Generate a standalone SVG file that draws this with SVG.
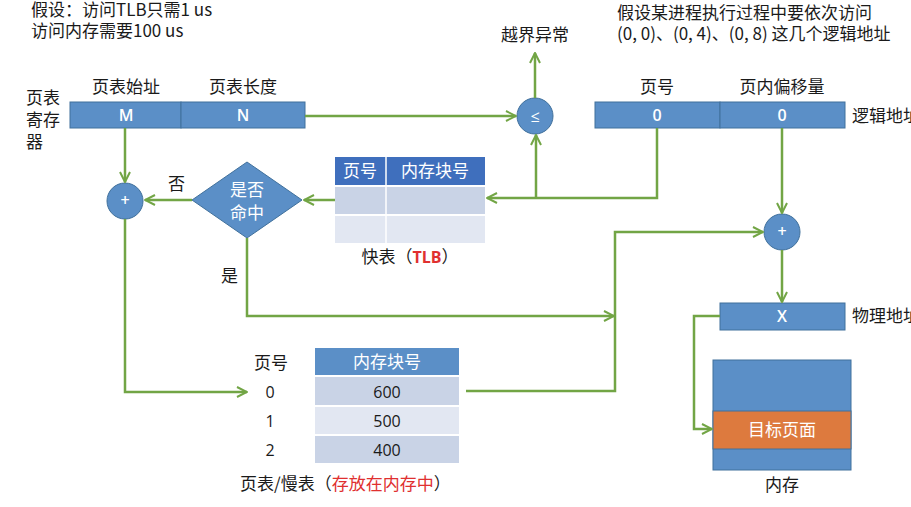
<svg xmlns="http://www.w3.org/2000/svg" width="911" height="507" viewBox="0 0 911 507">
<style>
text{font-family:"Noto Sans CJK SC","Noto Sans",sans-serif;font-size:17px;fill:#1a1a1a}
.w{fill:#fff}
.c{text-anchor:middle}
.num{font-family:"Open Sans","Noto Sans",sans-serif;font-size:16px}
.b{font-weight:600}
.red{fill:#e03030}
.blue{fill:#5b8fc7;stroke:#41719c;stroke-width:1}
.hdr{fill:#3f6fbd}
.r1{fill:#c9d3e6}
.r2{fill:#e2e7f2}
.arr{fill:none;stroke:#72a545;stroke-width:2.5;marker-end:url(#ah)}
</style>
<defs>
<marker id="ah" viewBox="0 0 10 10" refX="9" refY="5" markerWidth="5" markerHeight="5" orient="auto" markerUnits="strokeWidth">
<path d="M1,1 L9,5 L1,9" fill="none" stroke="#72a545" stroke-width="1.6"/>
</marker>
</defs>
<rect width="911" height="507" fill="#fff"/>

<g id="notes">
<text x="31" y="16">假设：访问TLB只需1 us</text>
<text x="31" y="37">访问内存需要100 us</text>
<text x="617" y="19">假设某进程执行过程中要依次访问</text>
<text x="617" y="40">(0, 0)、(0, 4)、(0, 8) 这几个逻辑地址</text>
</g>

<g id="page-table-register">
<text x="26" y="104">页表</text>
<text x="26" y="126">寄存</text>
<text x="26" y="148">器</text>
<text x="126" y="93" class="c">页表始址</text>
<text x="243" y="93" class="c">页表长度</text>
<rect x="70" y="102" width="111" height="26" class="blue"/>
<rect x="181" y="102" width="124" height="26" class="blue"/>
<text x="126" y="121" class="c w num b">M</text>
<text x="243" y="121" class="c w num b">N</text>
</g>

<g id="compare">
<circle cx="535" cy="116" r="18" class="blue"/>
<text x="535" y="122" class="c w num">≤</text>
<text x="535" y="41" class="c">越界异常</text>
</g>

<g id="logical-address">
<text x="657" y="93" class="c">页号</text>
<text x="782" y="93" class="c">页内偏移量</text>
<rect x="595" y="102" width="125" height="26" class="blue"/>
<rect x="720" y="102" width="125" height="26" class="blue"/>
<text x="657" y="121" class="c w num b">0</text>
<text x="782" y="121" class="c w num b">0</text>
<text x="852" y="122">逻辑地址</text>
</g>

<g id="tlb">
<rect x="335" y="157" width="150" height="28" class="hdr"/>
<rect x="335" y="187" width="150" height="27" class="r1"/>
<rect x="335" y="216" width="150" height="27" class="r2"/>
<line x1="386" y1="157" x2="386" y2="243" stroke="#fff" stroke-width="1.5"/>
<text x="360" y="177" class="c w">页号</text>
<text x="435" y="177" class="c w">内存块号</text>
<text x="410" y="263" class="c">快表（<tspan class="red" font-family="Open Sans,Noto Sans,sans-serif" font-weight="bold" font-size="16">TLB</tspan>）</text>
</g>

<g id="hit">
<polygon points="247,162 302,200 247,238 192,200" class="blue"/>
<text x="247" y="196" class="c w">是否</text>
<text x="247" y="219" class="c w">命中</text>
</g>

<g id="add1">
<circle cx="125" cy="201" r="18" class="blue"/>
<text x="125" y="206" class="c w num b" font-size="14">+</text>
</g>

<g id="add2">
<circle cx="782" cy="232" r="18" class="blue"/>
<text x="782" y="237" class="c w num b" font-size="14">+</text>
</g>

<g id="physical-address">
<rect x="720" y="303" width="125" height="27" class="blue"/>
<text x="782" y="322" class="c w num b">X</text>
<text x="852" y="322">物理地址</text>
</g>

<g id="memory">
<rect x="713" y="360" width="138" height="110" class="blue"/>
<rect x="713" y="411" width="138" height="38" fill="#dd7a3e" stroke="#41719c" stroke-width="1"/>
<text x="782" y="436" class="c w">目标页面</text>
<text x="782" y="491" class="c">内存</text>
</g>

<g id="page-table">
<text x="271" y="369" class="c">页号</text>
<rect x="315" y="348" width="144" height="27" fill="#5b8fc7"/>
<rect x="315" y="377" width="144" height="28" class="r1"/>
<rect x="315" y="407" width="144" height="27" class="r2"/>
<rect x="315" y="436" width="144" height="27" class="r1"/>
<text x="387" y="368" class="c w">内存块号</text>
<text x="270" y="398" class="c num">0</text>
<text x="270" y="427" class="c num">1</text>
<text x="270" y="456" class="c num">2</text>
<text x="387" y="398" class="c num">600</text>
<text x="387" y="427" class="c num">500</text>
<text x="387" y="456" class="c num">400</text>
<text x="240" y="490">页表/慢表（<tspan class="red">存放在内存中</tspan>）</text>
</g>

<g id="connectors">
<path d="M305,116 H516" class="arr"/>
<path d="M535,98 V53" class="arr"/>
<path d="M536,198 V135" class="arr"/>
<path d="M657,128 V198 H487" class="arr"/>
<path d="M335,200 H304" class="arr"/>
<path d="M192,200 H145" class="arr"/>
<text x="168" y="190">否</text>
<path d="M125,128 V182" class="arr"/>
<path d="M125,219 V392 H247" class="arr"/>
<path d="M247,238 V316 H614" class="arr"/>
<text x="221" y="282">是</text>
<path d="M466,391 H615 V232 H763" class="arr"/>
<path d="M782,128 V213" class="arr"/>
<path d="M782,250 V302" class="arr"/>
<path d="M720,316 H694 V429 H712" class="arr"/>
</g>
</svg>
